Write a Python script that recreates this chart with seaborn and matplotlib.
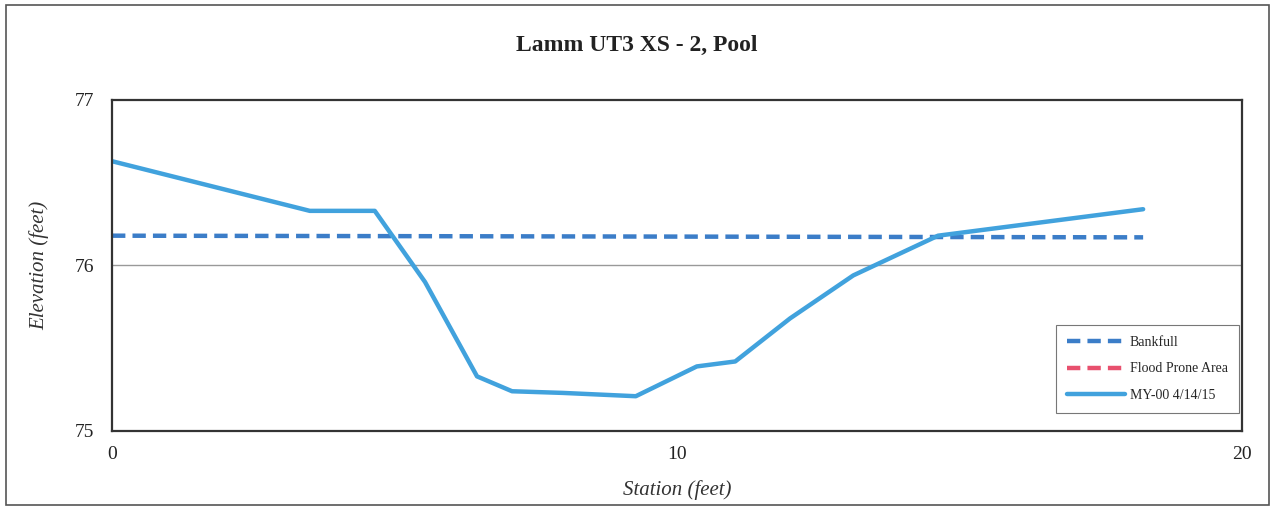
import numpy as np
import pandas as pd
import matplotlib
matplotlib.use("Agg")
import matplotlib.pyplot as plt
from matplotlib.patches import Rectangle
import seaborn as sns

# survey data
station = [0.0, 3.5, 4.65, 5.54, 6.46, 7.08, 7.98, 9.27, 10.35, 11.03, 12.0, 13.12, 14.62, 18.25]
elevation = [76.63, 76.33, 76.33, 75.90, 75.33, 75.24, 75.23, 75.21, 75.39, 75.42, 75.68, 75.94, 76.18, 76.34]
bankfull_x = [0.0, 18.25]
bankfull_y = [76.18, 76.17]

sns.set_style("white")
plt.rcParams['font.family'] = ['Liberation Serif', 'DejaVu Serif']

fig = plt.figure(figsize=(12.82, 5.18), dpi=100)
ax = fig.add_axes([0.0874, 0.168, 0.8814, 0.639])

df = pd.DataFrame({'Station': station, 'Elevation': elevation})
bf = pd.DataFrame({'Station': bankfull_x, 'Elevation': bankfull_y})

ax.axhline(76, color='#999999', lw=1, zorder=0)
sns.lineplot(data=bf, x='Station', y='Elevation', ax=ax, color='#3b7dc8', lw=3.2,
             linestyle=(0, (3, 1.6)), label='Bankfull')
ax.plot([], [], color='#e8506e', lw=3.2, linestyle=(0, (3, 1.6)), label='Flood Prone Area')
sns.lineplot(data=df, x='Station', y='Elevation', ax=ax, color='#41a2dd', lw=3.2,
             label='MY-00 4/14/15', sort=False)

ax.set_xlim(0, 20)
ax.set_ylim(75, 77)
ax.set_xticks([0, 10, 20])
ax.set_xticks([5, 15], minor=True)
ax.set_yticks([75, 76, 77])
ax.set_yticks([75.5, 76.5], minor=True)
ax.tick_params(axis='both', which='both', direction='inout', length=6, width=0.8,
               colors='#333333', labelsize=14, labelcolor='#222222')
ax.tick_params(axis='x', pad=8)
ax.tick_params(axis='y', pad=10)
for s in ax.spines.values():
    s.set_color('#333333')
    s.set_linewidth(1.6)

ax.set_xlabel('Station (feet)', fontsize=15, style='italic', color='#333333', labelpad=12)
ax.set_ylabel('Elevation (feet)', fontsize=15, style='italic', color='#333333', labelpad=18)

fig.text(0.497, 0.913, 'Lamm UT3 XS - 2, Pool', ha='center', va='center',
         fontsize=17, fontweight='bold', color='#222222')

leg = ax.legend(loc='lower right', bbox_to_anchor=(0.997, 0.055), fontsize=10,
                frameon=True, fancybox=False, handlelength=4.2, labelspacing=0.95,
                borderpad=0.8, handletextpad=0.3, borderaxespad=0)
leg.get_frame().set_edgecolor('#555555')
leg.get_frame().set_linewidth(0.8)

fig.patches.append(Rectangle((0.005, 0.025), 0.985, 0.965, transform=fig.transFigure,
                             fill=False, edgecolor='#555555', lw=1.2))

fig.savefig('out.png', dpi=100)
